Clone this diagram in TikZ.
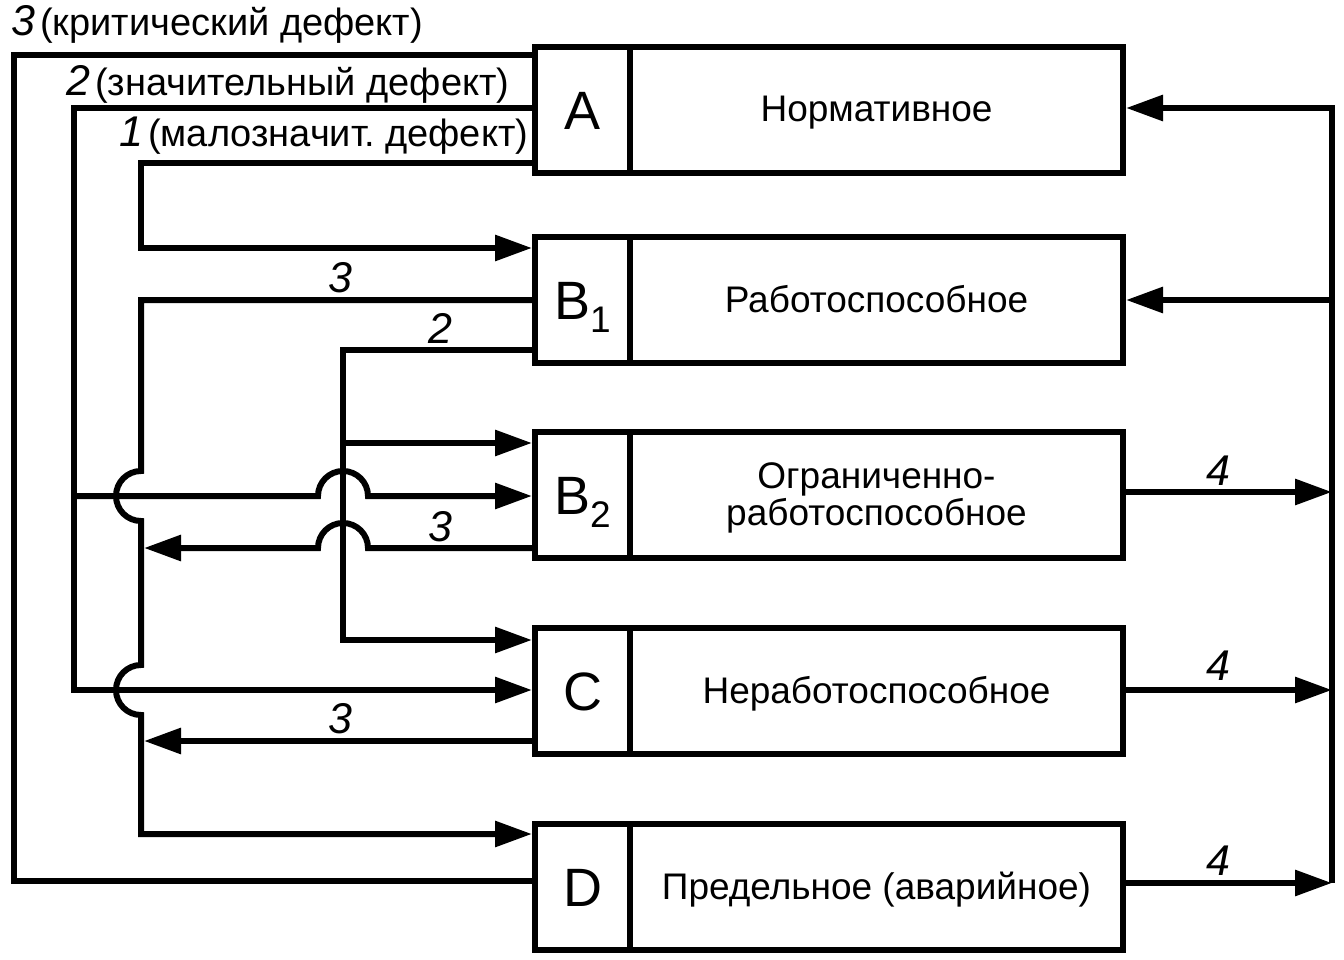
\documentclass[tikz,border=0pt]{standalone}
\usepackage{fontspec}
\setmainfont{Liberation Sans}
\usetikzlibrary{arrows.meta}
\newcommand\subx[1]{\raisebox{-13pt}{\fontsize{37}{37}\selectfont #1}}
\begin{document}
\frenchspacing
\begin{tikzpicture}[x=1pt,y=-1pt,
  conn/.style={line width=6pt, line join=miter},
  arr/.style={conn, -{Triangle[length=37pt,width=25pt]}},
  letterbox/.style={draw, line width=6pt, minimum width=95pt, minimum height=126pt,
    inner sep=0pt, text height=38.7pt, text depth=0pt, font=\fontsize{54}{54}\selectfont},
  textbox/.style={draw, line width=6pt, minimum width=493pt, minimum height=126pt,
    inner sep=0pt, align=center, text height=24pt, text depth=0pt,
    font=\fontsize{37}{37}\selectfont},
  num/.style={font=\fontsize{43}{43}\selectfont\itshape, inner sep=0pt, anchor=base},
  numl/.style={num, anchor=base west},
  lbl/.style={font=\fontsize{38}{38}\selectfont, inner sep=0pt, anchor=base west},
]
\fill[white] (0,0) rectangle (1344,960);
\useasboundingbox (0,0) rectangle (1344,960);

% boxes
\node[letterbox] (A)  at (582.5,110) {A};
\node[textbox]   (At) at (876.5,110) {Нормативное};
\node[letterbox] (B1)  at (582.5,300) {B\subx{1}};
\node[textbox]   (B1t) at (876.5,300) {Работоспособное};
\node[letterbox] (B2)  at (582.5,495) {B\subx{2}};
\node[textbox, text height=60pt, text depth=0pt] (B2t) at (876.5,495) {Ограниченно-\\работоспособное};
\node[letterbox] (C)  at (582.5,691) {C};
\node[textbox]   (Ct) at (876.5,691) {Неработоспособное};
\node[letterbox] (D)  at (582.5,887) {D};
\node[textbox]   (Dt) at (876.5,887) {Предельное (аварийное)};

% bend points
\coordinate (k3a) at (14,55.5);
\coordinate (k3b) at (14,881);
\coordinate (k2a) at (74,108);
\coordinate (k2b) at (74,690);
\coordinate (k2c) at (74,496);
\coordinate (k1a) at (141,163);
\coordinate (k1b) at (141,248);
\coordinate (kb3a) at (141,300);
\coordinate (kb3b) at (141,834);
\coordinate (kb2a) at (343,350);
\coordinate (kb2b) at (343,640);
\coordinate (kb2c) at (343,443);
\coordinate (tipB2) at (144,548);
\coordinate (tipC) at (144,741);
\coordinate (busA) at (1332,108);
\coordinate (busB1) at (1332,300);
\coordinate (busB2) at (1332,492);
\coordinate (busC) at (1332,690);
\coordinate (busD) at (1332,883);

% 3: critical defect from A to D
\draw[conn] (A.west |- k3a) -- (k3a) -- (k3b) -- (D.west |- k3b);
% 2: significant defect from A to B2 and C
\draw[arr] (A.west |- k2a) -- (k2a) -- (k2b) -- (C.west |- k2b);
\draw[arr] (k2c) -- (318,496) arc[start angle=180,end angle=0,radius=25pt] -- (B2.west |- k2c);
% 1: minor defect from A to B1
\draw[arr] (A.west |- k1a) -- (k1a) -- (k1b) -- (B1.west |- k1b);
% from B1: 3 to D
\draw[arr] (B1.west |- kb3a) -- (kb3a) -- (141,471) arc[start angle=90,end angle=270,radius=25pt]
  -- (141,665) arc[start angle=90,end angle=270,radius=25pt] -- (kb3b) -- (D.west |- kb3b);
% from B1: 2 to B2 and C
\draw[arr] (B1.west |- kb2a) -- (kb2a) -- (kb2b) -- (C.west |- kb2b);
\draw[arr] (kb2c) -- (B2.west |- kb2c);
% from B2: 3
\draw[arr] (B2.west |- tipB2) -- (368,548) arc[start angle=0,end angle=180,radius=25pt] -- (tipB2);
% from C: 3
\draw[arr] (C.west |- tipC) -- (tipC);
% right side
\draw[arr] (busD) -- (busA) -- (At.east |- busA);
\draw[arr] (busB1) -- (B1t.east |- busB1);
\draw[arr] (B2t.east |- busB2) -- (busB2);
\draw[arr] (Ct.east |- busC) -- (busC);
\draw[arr] (Dt.east |- busD) -- (busD);

% labels
\node[numl] (d3) at (11,36) {3};
\node[lbl]  (t3) at (40,36) {(критический дефект)};
\node[numl] (d2) at (66,96) {2};
\node[lbl]  (t2) at (95,96) {(значительный дефект)};
\node[numl] (d1) at (119,147) {1};
\node[lbl]  (t1) at (148,147) {(малозначит. дефект)};
\node[num] (n1) at (340,292) {3};
\node[num] (n2) at (440,343) {2};
\node[num] (n3) at (440,541) {3};
\node[num] (n4) at (340,733) {3};
\node[num] (n5) at (1218,485) {4};
\node[num] (n6) at (1218,680) {4};
\node[num] (n7) at (1218,875) {4};
\end{tikzpicture}
\end{document}
